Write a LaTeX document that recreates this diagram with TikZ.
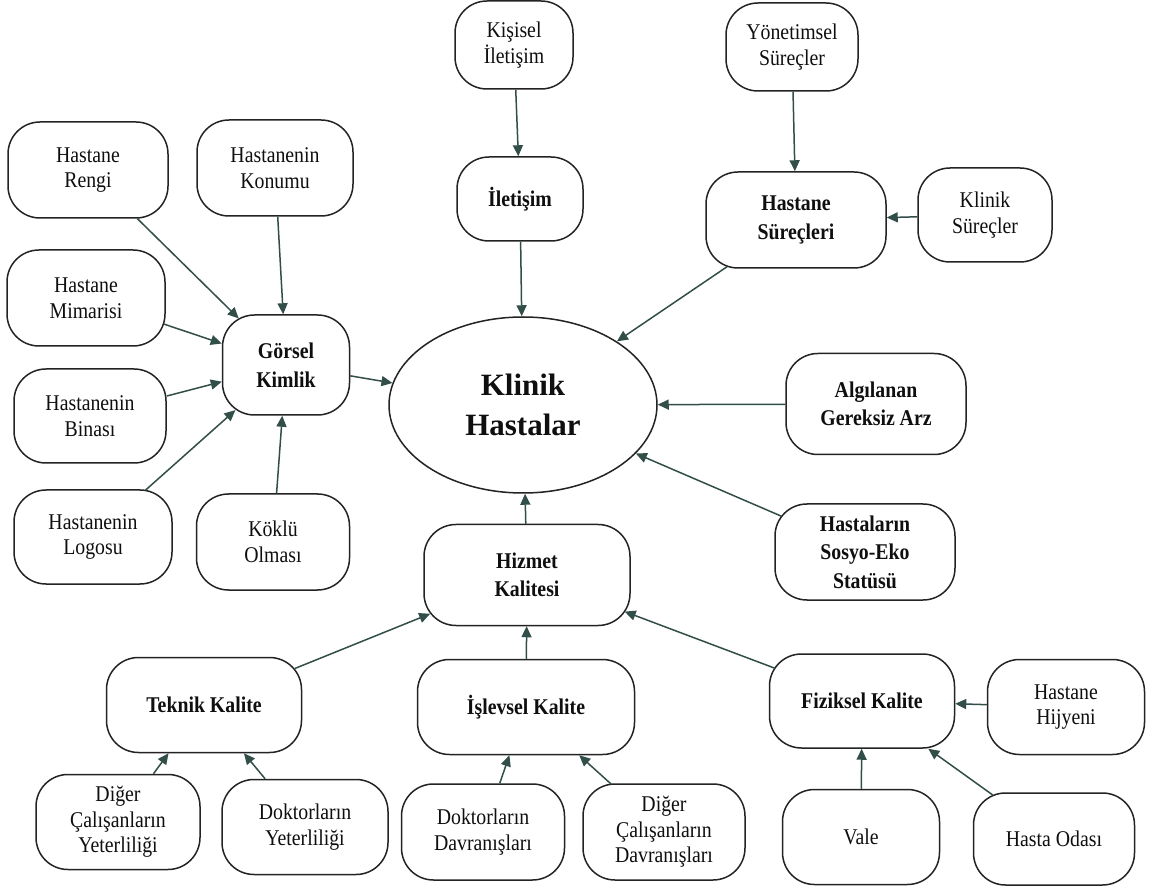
\documentclass[tikz,border=0pt]{standalone}
\usepackage{fontspec}
\setmainfont{Liberation Serif}
\newfontfamily\lblfont[FakeStretch=0.88]{Liberation Serif}
\newfontfamily\headfont[FakeStretch=0.88]{Liberation Serif}
\usetikzlibrary{arrows.meta,shapes.geometric}
\definecolor{edgecol}{RGB}{50,78,72}
\definecolor{framecol}{RGB}{35,35,35}
\definecolor{textcol}{RGB}{15,15,15}

\begin{document}
\begin{tikzpicture}[x=1pt,y=-1pt,
  box/.style={draw=framecol, line width=1.5pt, rounded corners=32pt, fill=white,
    align=center, inner sep=0pt, text=textcol},
  leaf/.style={box, font={\lblfont\fontsize{22.5}{25.5}\selectfont}},
  hub/.style={box, font={\headfont\bfseries\fontsize{22.5}{28.5}\selectfont}},
  core/.style={ellipse, draw=framecol, line width=1.5pt, fill=white, align=center,
    inner sep=0pt, text=textcol, font={\bfseries\fontsize{31}{40}\selectfont}},
  arr/.style={draw=edgecol, line width=1.5pt, -{Triangle[length=11pt,width=10pt]}},
  ]
\useasboundingbox (0,0) rectangle (1152,890);
\fill[white] (0,0) rectangle (1152,890);

% centre
\node[core, minimum width=268pt, minimum height=176pt] (kh) at (523,405) {Klinik\\Hastalar};

% communication branch
\node[leaf, minimum width=118pt, minimum height=88pt] (kis) at (514,45) {Kişisel\\İletişim};
\node[hub, minimum width=126pt, minimum height=84pt] (ilt) at (520,199) {İletişim};

% hospital processes branch
\node[leaf, minimum width=132pt, minimum height=88pt] (yon) at (792,47) {Yönetimsel\\Süreçler};
\node[hub, minimum width=180pt, minimum height=96pt] (hs) at (796,220) {Hastane\\Süreçleri};
\node[leaf, minimum width=134pt, minimum height=94pt] (ks) at (985,215) {Klinik\\Süreçler};

% visual identity branch
\node[leaf, minimum width=160pt, minimum height=96pt] (hr) at (88,170) {Hastane\\Rengi};
\node[leaf, minimum width=156pt, minimum height=96pt] (hk) at (275,168) {Hastanenin\\Konumu};
\node[leaf, minimum width=158pt, minimum height=96pt] (hm) at (86,298) {Hastane\\Mimarisi};
\node[hub, minimum width=127pt, minimum height=100pt] (gk) at (286,365) {Görsel\\Kimlik};
\node[leaf, minimum width=152pt, minimum height=94pt] (hb) at (90,416) {Hastanenin\\Binası};
\node[leaf, minimum width=158pt, minimum height=94pt] (hl) at (93,537) {Hastanenin\\Logosu};
\node[leaf, minimum width=153pt, minimum height=96pt] (ko) at (273,542) {Köklü\\Olması};

% right-hand factors
\node[hub, minimum width=180pt, minimum height=101pt] (ag) at (876,404) {Algılanan\\Gereksiz Arz};
\node[hub, minimum width=180pt, minimum height=96pt] (se) at (865,552) {Hastaların\\Sosyo-Eko\\Statüsü};

% service quality branch
\node[hub, minimum width=206pt, minimum height=101pt] (hz) at (527,575) {Hizmet\\Kalitesi};
\node[hub, minimum width=195pt, minimum height=95pt] (tk) at (204,705) {Teknik Kalite};
\node[hub, minimum width=217pt, minimum height=95pt] (ik) at (526,707) {İşlevsel Kalite};
\node[hub, minimum width=185pt, minimum height=94pt] (fk) at (862,701) {Fiziksel Kalite};
\node[leaf, minimum width=157pt, minimum height=95pt] (hh) at (1066,707) {Hastane\\Hijyeni};
\node[leaf, minimum width=164pt, minimum height=95pt] (dy) at (118,822) {Diğer\\Çalışanların\\Yeterliliği};
\node[leaf, minimum width=166pt, minimum height=95pt] (doy) at (305,827) {Doktorların\\Yeterliliği};
\node[leaf, minimum width=163pt, minimum height=96pt] (dd) at (483,832) {Doktorların\\Davranışları};
\node[leaf, minimum width=162pt, minimum height=96pt] (dgd) at (664,832) {Diğer\\Çalışanların\\Davranışları};
\node[leaf, minimum width=157pt, minimum height=95pt] (va) at (861,837) {Vale};
\node[leaf, minimum width=161pt, minimum height=92pt] (ho) at (1054,839) {Hasta Odası};

% connectors (negative shortening reaches the rounded corners)
\draw[arr] (kis) -- (ilt);
\draw[arr] (yon) -- (hs);
\draw[arr] (ks) -- (hs);
\draw[arr] (ilt) -- (kh);
\draw[arr, shorten <=-4pt] (hs) -- (kh);
\draw[arr] (ag) -- (kh);
\draw[arr, shorten <=-7.5pt] (se) -- (kh);
\draw[arr] (hz) -- (kh);
\draw[arr] (gk) -- (kh);

\draw[arr, shorten >=-6pt] (hr) -- (gk);
\draw[arr] (hk) -- (gk);
\draw[arr, shorten <=-2pt] (hm) -- (gk);
\draw[arr] (hb) -- (gk);
\draw[arr, shorten <=-1.5pt, shorten >=-8.5pt] (hl) -- (gk);
\draw[arr] (ko) -- (gk);

\draw[arr, shorten <=-8pt, shorten >=-7.5pt] (tk) -- (hz);
\draw[arr] (ik) -- (hz);
\draw[arr, shorten <=-6.5pt, shorten >=-6.5pt] (fk) -- (hz);
\draw[arr] (hh) -- (fk);

\draw[arr] (dy) -- (tk);
\draw[arr] (doy) -- (tk);
\draw[arr] (dd) -- (ik);
\draw[arr, shorten <=-1pt] (dgd) -- (ik);
\draw[arr] (va) -- (fk);
\draw[arr, shorten <=-4.5pt] (ho) -- (fk);
\end{tikzpicture}
\end{document}
